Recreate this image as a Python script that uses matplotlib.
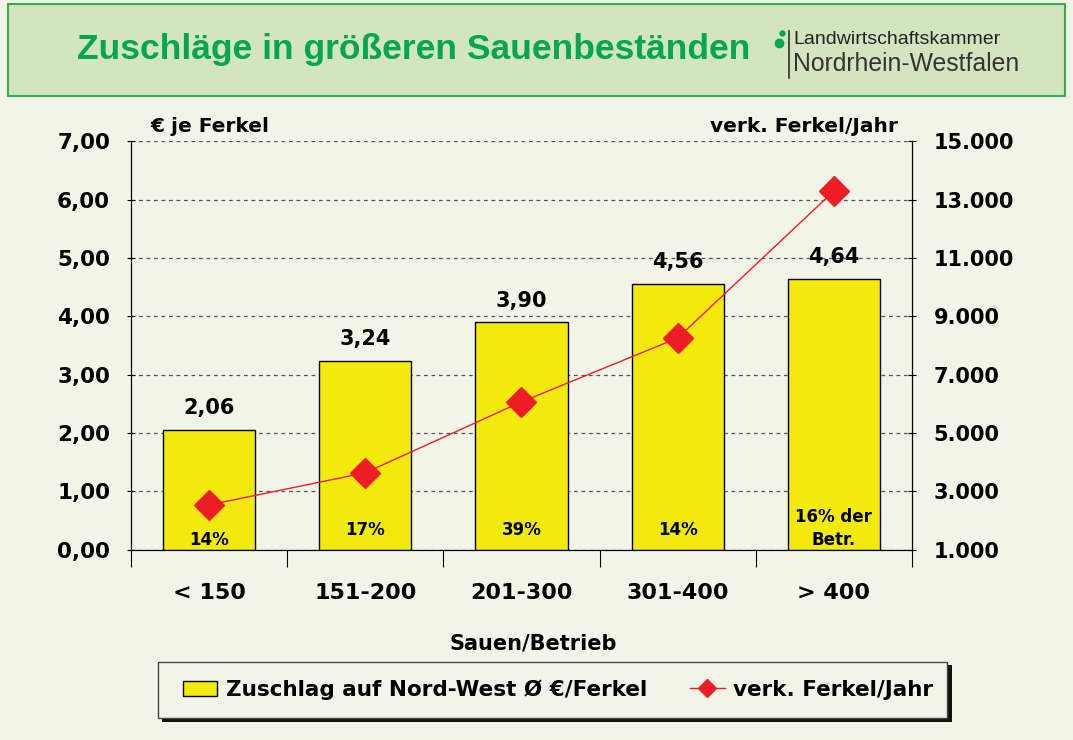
import matplotlib.pyplot as plt
from matplotlib.patches import Rectangle
from matplotlib.lines import Line2D
from matplotlib.ticker import FuncFormatter

# data
categories = ["< 150", "151-200", "201-300", "301-400", "> 400"]
zuschlag = [2.06, 3.24, 3.90, 4.56, 4.64]
ferkel_jahr = [2540, 3640, 6070, 8260, 13300]
anteil = ["14%", "17%", "39%", "14%", "16% der\nBetr."]
bar_labels = ["2,06", "3,24", "3,90", "4,56", "4,64"]

BG = "#F1F4E7"
YELLOW = "#F2EA0C"
RED = "#EE1C25"
GREEN = "#00A650"

plt.rcParams['font.family'] = ['DejaVu Sans']
B = {"fontweight": "bold"}

fig = plt.figure(figsize=(10.73, 7.4), dpi=100, facecolor=BG)

# title band
band = Rectangle((0.007, 0.870), 0.986, 0.125, transform=fig.transFigure,
                 facecolor="#D3E5BE", edgecolor="#3BAA50", linewidth=1.5)
fig.patches.append(band)
fig.text(0.386, 0.933, "Zuschläge in größeren Sauenbeständen", color=GREEN,
         fontsize=25.5, fontweight="bold", ha="center", va="center",
         family="Liberation Sans")
fig.text(0.739, 0.946, "Landwirtschaftskammer", color="#222222",
         fontsize=14, ha="left", va="center", family="Liberation Sans")
fig.text(0.739, 0.914, "Nordrhein-Westfalen", color="#333333",
         fontsize=17.8, ha="left", va="center", family="Liberation Sans")
fig.lines.append(Line2D([0.735, 0.735], [0.895, 0.958], transform=fig.transFigure,
                        color="#333333", linewidth=1.2))
fig.lines.append(Line2D([0.726], [0.942], transform=fig.transFigure, marker="o",
                        markersize=6, color=GREEN))
fig.lines.append(Line2D([0.729], [0.955], transform=fig.transFigure, marker="o",
                        markersize=3.5, color=GREEN))

ax = fig.add_axes([0.122, 0.257, 0.728, 0.552])
ax.set_facecolor(BG)
x = list(range(len(categories)))

ax.bar(x, zuschlag, width=0.59, color=YELLOW, edgecolor="black",
       linewidth=1, zorder=3)
pct_y = [0.02, 0.18, 0.18, 0.18, 0.02]
for xi, v, lab, pct, py in zip(x, zuschlag, bar_labels, anteil, pct_y):
    ax.text(xi, v + 0.2, lab, ha="center", va="bottom", fontsize=15, **B)
    ax.text(xi, py, pct, ha="center", va="bottom", linespacing=1.3,
            fontsize=12, **B)

ax.set_ylim(0, 7)
ax.set_xlim(-0.5, 4.5)
ax.set_yticks(range(0, 8))
ax.yaxis.set_major_formatter(FuncFormatter(lambda v, p: f"{v:.2f}".replace(".", ",")))
ax.grid(axis="y", linestyle=(0, (3, 3)), color="#555555", linewidth=0.9, zorder=0)
ax.set_xticks([i - 0.5 for i in range(6)], minor=False)
ax.set_xticklabels([])
ax.set_xticks(x, minor=True)
ax.set_xticklabels(categories, minor=True)
ax.tick_params(axis="x", which="major", length=12, direction="out")
ax.tick_params(axis="x", which="minor", length=0, pad=24, labelsize=16)
for t in ax.get_xticklabels(minor=True):
    t.set_fontweight("bold")
ax.tick_params(axis="y", labelsize=15.5, length=6, direction="inout", pad=12)
for t in ax.get_yticklabels():
    t.set_fontweight("bold")
ax.spines["top"].set_visible(False)
ax.set_xlabel("Sauen/Betrieb", fontsize=15, fontweight="bold")
ax.xaxis.set_label_coords(0.515, -0.205)

ax2 = ax.twinx()
ax2.plot(x, ferkel_jahr, color=RED, linewidth=1, marker="D", markersize=15,
         markerfacecolor=RED, markeredgecolor=RED, zorder=5)
ax2.set_ylim(1000, 15000)
ax2.set_yticks(range(1000, 15001, 2000))
ax2.yaxis.set_major_formatter(FuncFormatter(lambda v, p: f"{int(v):,}".replace(",", ".")))
ax2.tick_params(axis="y", labelsize=15, length=6, direction="inout", pad=12.5)
for t in ax2.get_yticklabels():
    t.set_fontweight("bold")
ax2.spines["top"].set_visible(False)

fig.text(0.140, 0.829, "€ je Ferkel", fontsize=14.5, ha="left", va="center", **B)
fig.text(0.837, 0.829, "verk. Ferkel/Jahr", fontsize=14.5, ha="right",
         va="center", **B)

# legend box with shadow
shadow = Rectangle((0.151, 0.025), 0.736, 0.076, transform=fig.transFigure,
                   facecolor="#111111", edgecolor="none")
box = Rectangle((0.147, 0.030), 0.736, 0.076, transform=fig.transFigure,
                facecolor=BG, edgecolor="#444444", linewidth=1)
fig.patches.extend([shadow, box])
handles = [Rectangle((0, 0), 1, 1, facecolor=YELLOW, edgecolor="black", linewidth=1),
           Line2D([0], [0], color=RED, linewidth=1, marker="D", markersize=9)]
fig.legend(handles, ["Zuschlag auf Nord-West Ø €/Ferkel", "verk. Ferkel/Jahr"],
           loc="center", bbox_to_anchor=(0.520, 0.068), ncol=2, frameon=False,
           prop={"size": 15.5, "weight": "bold"}, handlelength=1.6,
           handletextpad=0.4, columnspacing=2.0)

fig.savefig("out.png", dpi=100, facecolor=BG)
